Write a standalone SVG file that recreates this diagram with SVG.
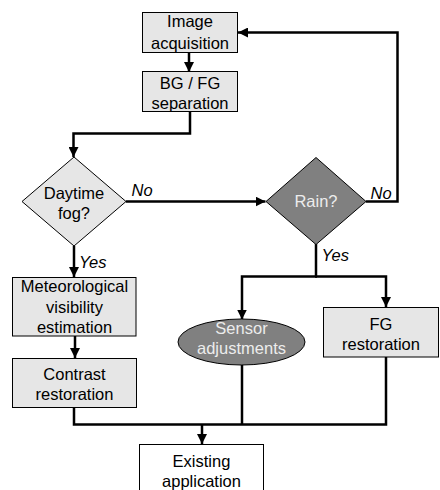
<svg xmlns="http://www.w3.org/2000/svg" width="440" height="490" viewBox="0 0 440 490">
<defs>
<marker id="arr" viewBox="0 0 10 10" refX="10" refY="5" markerWidth="10" markerHeight="10" markerUnits="userSpaceOnUse" orient="auto">
<path d="M0,0 L10,5 L0,10 z" fill="#000"/>
</marker>
<style>
.box{fill:#e6e6e6;stroke:#000;stroke-width:1}
.dark{fill:#808080;stroke:#000;stroke-width:1}
.white{fill:#fff;stroke:#000;stroke-width:1}
text{font-family:"Liberation Sans",Arial,sans-serif;font-size:16.5px;fill:#000}
.c{text-anchor:middle}
.lt{fill:#ececec}
.lbl{font-style:italic}
.con{fill:none;stroke:#000;stroke-width:2.5}
.arr{marker-end:url(#arr)}
</style>
</defs>
<g id="connectors">
<path class="con arr" d="M189,52 V72"/>
<path class="con arr" d="M190,111 V133.5 H73.5 V157"/>
<path class="con arr" d="M126,201.5 H265.5"/>
<path class="con arr" d="M366,201.5 H397.5 V32.5 H238"/>
<path class="con arr" d="M74,246 V277"/>
<path class="con arr" d="M75,336 V358"/>
<path class="con" d="M316,244 V276.5"/>
<path class="con arr" d="M317,276.5 H242 V319.5"/>
<path class="con arr" d="M315,276.5 H386 V307"/>
<path class="con" d="M74,407 V424.5 H386 V357"/>
<path class="con" d="M242,365 V424.5"/>
<path class="con arr" d="M202,424.5 V444"/>
</g>
<g id="image-acquisition">
<rect class="box" x="142.5" y="12.5" width="95" height="40"/>
<text class="c" x="190" y="27">Image</text>
<text class="c" x="190" y="48.5">acquisition</text>
</g>
<g id="bg-fg-separation">
<rect class="box" x="142.5" y="71.5" width="95" height="40"/>
<text class="c" x="190" y="88.5">BG / FG</text>
<text class="c" x="190" y="108.5">separation</text>
</g>
<g id="daytime-fog">
<polygon class="box" points="74,157 126,201.5 74,246 22,201.5"/>
<text class="c" x="74" y="198.5">Daytime</text>
<text class="c" x="74" y="218.5">fog?</text>
</g>
<g id="rain">
<polygon class="dark" points="316,157.5 366,201.5 316,244.5 266,201.5"/>
<text class="c lt" x="316" y="207">Rain?</text>
</g>
<g id="labels">
<text class="lbl" x="131.5" y="195.5">No</text>
<text class="lbl" x="370.5" y="198.5">No</text>
<text class="lbl" x="321.5" y="260.5">Yes</text>
<text class="lbl" x="79" y="268">Yes</text>
</g>
<g id="meteorological-visibility">
<rect class="box" x="12.5" y="277.5" width="123.5" height="58.5"/>
<text class="c" x="74.5" y="292">Meteorological</text>
<text class="c" x="74.5" y="313">visibility</text>
<text class="c" x="74.5" y="333">estimation</text>
</g>
<g id="contrast-restoration">
<rect class="box" x="12.5" y="358.5" width="124" height="49"/>
<text class="c" x="74.5" y="380">Contrast</text>
<text class="c" x="74.5" y="399.5">restoration</text>
</g>
<g id="sensor-adjustments">
<ellipse class="dark" cx="241.5" cy="342" rx="63.5" ry="23"/>
<text class="c lt" x="241.5" y="333.5">Sensor</text>
<text class="c lt" x="241.5" y="353.5">adjustments</text>
</g>
<g id="fg-restoration">
<rect class="box" x="323.5" y="307.5" width="115" height="49.5"/>
<text class="c" x="381" y="330">FG</text>
<text class="c" x="381" y="349.5">restoration</text>
</g>
<g id="existing-application">
<rect class="white" x="139.5" y="444.5" width="124" height="50"/>
<text class="c" x="201.5" y="467">Existing</text>
<text class="c" x="201.5" y="487">application</text>
</g>
</svg>
